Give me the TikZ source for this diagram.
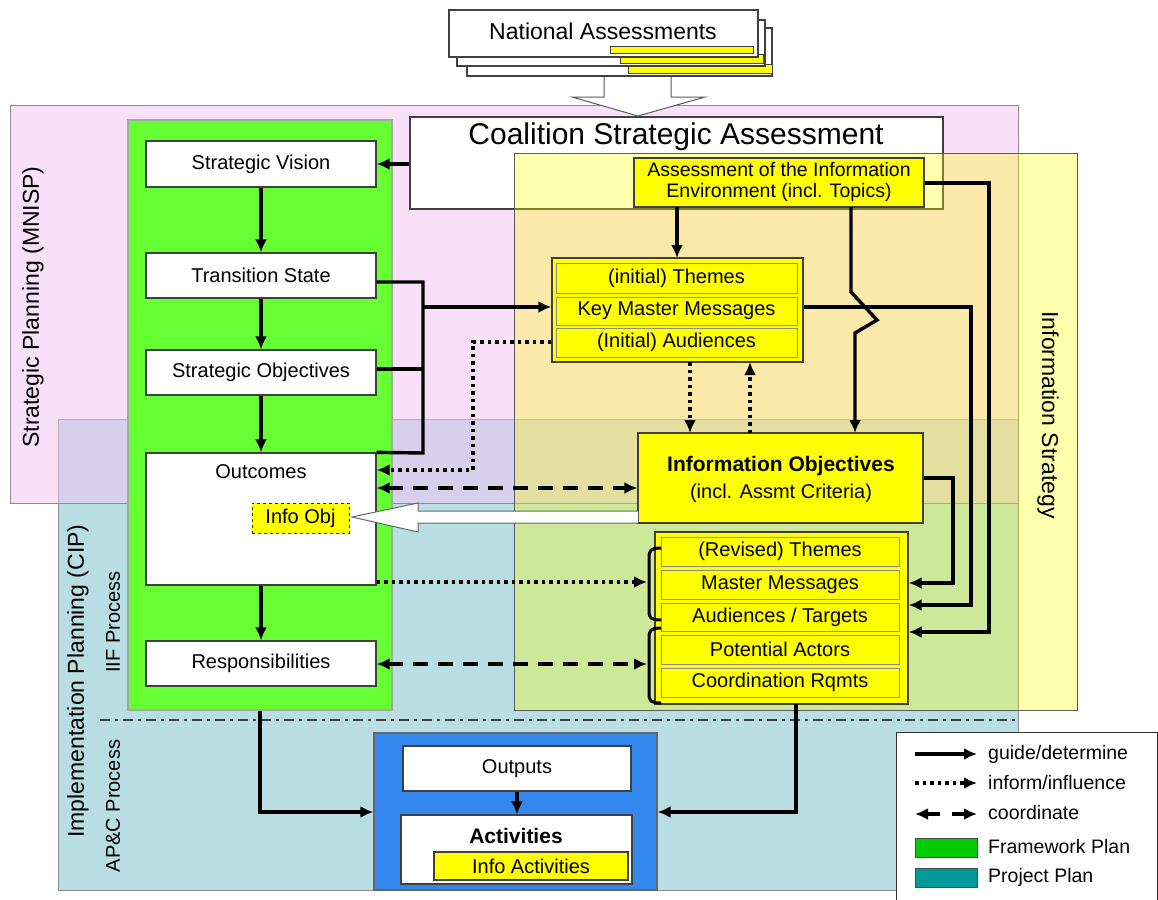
\documentclass[tikz,border=0pt]{standalone}
\usepackage{fontspec}
\setmainfont{Liberation Sans}
\usetikzlibrary{arrows.meta}
\definecolor{pinkR}{RGB}{245,196,245}
\definecolor{blueR}{RGB}{184,222,228}
\definecolor{greenF}{RGB}{102,255,51}
\definecolor{yellowF}{RGB}{255,255,0}
\definecolor{blueBox}{RGB}{51,136,238}
\definecolor{legG}{RGB}{0,204,0}
\definecolor{legT}{RGB}{0,153,153}
\newcommand{\mkbox}[6]{\node[#2, minimum width={(#5)-(#3)}, minimum height={(#6)-(#4)}] (#1) at ({((#3)+(#5))/2},{((#4)+(#6))/2})}
\newcommand{\fs}[1]{\fontsize{#1}{#1}\selectfont}
\begin{document}
\begin{tikzpicture}[x=1pt,y=-1pt, font=\fs{20},
  box/.style={draw=black!75, line width=1.3pt, fill=white, inner sep=0pt},
  ybox/.style={draw=black!75, line width=1.3pt, fill=yellowF, inner sep=0pt},
  row/.style={draw=black!45, line width=0.8pt, fill=yellowF, inner sep=0pt},
  arr/.style={line width=3.4pt, -{Latex[length=13pt,width=12pt]}},
  ln/.style={line width=3.4pt},
  dotarr/.style={line width=3.6pt, dash pattern=on 3.5pt off 4pt, -{Latex[length=13pt,width=12pt]}},
  dasharr/.style={line width=3.6pt, dash pattern=on 15pt off 10pt, {Latex[length=13pt,width=12pt]}-{Latex[length=13pt,width=12pt]}},
  lbl/.style={anchor=west, inner sep=0pt, font=\fs{19.5}},
]
\useasboundingbox (0,0) rectangle (1158,899);
\fill[white] (0,0) rectangle (1158,899);

% regions
\fill[blueR] (58,419) rectangle (1018,890);
\draw[black!45, line width=0.8pt] (58,419) rectangle (1018,890);
\fill[pinkR, fill opacity=0.51] (10,105) rectangle (1018,503);
\draw[black!45, line width=0.8pt] (10,105) rectangle (1018,503);

\node[rotate=90] (spl) at (33,307) {\fs{23}Strategic Planning (MNISP)};
\node[rotate=90] (ipl) at (78,681) {\fs{23}Implementation Planning (CIP)};
\node[rotate=90] (iif) at (113,622) {IIF Process};
\node[rotate=90] (apc) at (113,806) {AP\&C Process};

% framework plan (green)
\mkbox{fw}{draw=black!35, line width=1.5pt, fill=greenF, inner sep=0pt}{128}{120}{392}{710}{};
\mkbox{sv}{box}{146}{141}{376}{187} {Strategic Vision};
\mkbox{ts}{box}{146}{253}{376}{298} {Transition State};
\mkbox{so}{box}{146}{350}{376}{395} {Strategic Objectives};
\mkbox{oc}{box}{146}{453}{376}{585} {};
\node (oct) at (261,472) {Outcomes};
\mkbox{iob}{fill=yellowF, draw=black!80, dashed, line width=0.9pt, inner sep=0pt}{252}{503}{349}{533} {Info Obj};
\mkbox{resp}{box}{146}{641}{376}{686} {Responsibilities};

% coalition strategic assessment
\mkbox{csa}{box}{410}{117}{943}{209} {};
\node (csat) at (676,137) {\fs{30}Coalition Strategic Assessment};

% dash-dot separator
\draw[black!75, line width=2.8pt, dash pattern=on 10pt off 5pt on 3pt off 5pt] (100,720) -- (1018,720);

% project plan (blue)
\mkbox{bp}{draw=black!60, line width=1.2pt, fill=blueBox, inner sep=0pt}{374}{733}{657}{890} {};
\mkbox{out}{box}{403}{746}{631}{791} {Outputs};
\mkbox{act}{box}{401}{815}{632}{884} {};
\node (actt) at (516,836) {\fs{21}\bfseries Activities};
\mkbox{iact}{ybox}{434}{852}{628}{880} {Info Activities};

% national assessments
\fill[white] (604,70) -- (604,97) -- (572,97) -- (638,116) -- (705,97) -- (671,97) -- (671,70) -- cycle;
\draw[black!65, line width=1pt] (604,76) -- (604,97) -- (572,97) -- (638,116) -- (705,97) -- (671,97) -- (671,76);
\mkbox{na3}{box}{467}{28}{772}{76} {};
\mkbox{nb3}{ybox, line width=0.9pt}{628}{64}{772}{73} {};
\mkbox{na2}{box}{457}{20}{765}{66} {};
\mkbox{nb2}{ybox, line width=0.9pt}{620}{54}{763}{63} {};
\mkbox{na1}{box}{449}{10}{758}{57} {};
\mkbox{nb1}{ybox, line width=0.9pt}{610}{46}{753}{53} {};
\node (nat) at (603,31) {\fs{23}National Assessments};

% information strategy (yellow, translucent)
\fill[yellowF, fill opacity=0.32] (514,153) rectangle (1077,710);
\draw[black!65, line width=0.9pt] (514,153) rectangle (1077,710);
\node[rotate=-90] (ist) at (1048,415) {\fs{23}Information Strategy};

\mkbox{aie}{ybox}{634}{158}{924}{207} {};
\node[align=center, font=\fs{19.5}] (aiet) at (779,182) {Assessment of the Information\\[1pt]Environment (incl. Topics)};

\mkbox{th}{ybox}{552}{258}{803}{362} {};
\mkbox{th1}{row}{556}{263}{797}{293} {(initial) Themes};
\mkbox{th2}{row}{556}{297}{797}{325} {Key Master Messages};
\mkbox{th3}{row}{556}{328}{797}{357} {(Initial) Audiences};

\mkbox{io}{ybox}{638}{433}{923}{523} {};
\node (iot1) at (781,466) {\fs{21}\bfseries Information Objectives};
\node (iot2) at (781,493) {(incl. Assmt Criteria)};

\mkbox{rv}{ybox}{655}{532}{908}{704} {};
\mkbox{rv1}{row}{661}{537}{899}{566} {(Revised) Themes};
\mkbox{rv2}{row}{661}{570}{899}{599} {Master Messages};
\mkbox{rv3}{row}{661}{603}{899}{631} {Audiences / Targets};
\mkbox{rv4}{row}{661}{635}{899}{664} {Potential Actors};
\mkbox{rv5}{row}{661}{668}{899}{697} {Coordination Rqmts};

% braces
\draw[line width=3pt] (661,548) .. controls (651,548) and (649,550) .. (649,558) -- (649,611) .. controls (649,618) and (651,620) .. (661,620);
\draw[line width=3pt] (661,628) .. controls (651,628) and (649,630) .. (649,638) -- (649,694) .. controls (649,701) and (651,703) .. (661,703);
\coordinate (bu) at (647,582);
\coordinate (bl) at (647,664);

% guide/determine arrows
\draw[arr] (csa.west |- sv.east) -- (sv.east);
\draw[arr] (sv.south) -- (ts.north);
\draw[arr] (ts.south) -- (so.north);
\draw[arr] (so.south) -- (oc.north);
\draw[arr] (oc.south) -- (resp.north);
\coordinate (bt) at (423,282);
\coordinate (bm) at (423,307);
\coordinate (bb) at (423,453);
\draw[ln] (ts.east |- bt) -- (bt) -- (bb) -- (oc.north east);
\draw[ln] (so.east |- 0,369) -- (423,369);
\draw[arr] (bm) -- (bm -| th.west);
\draw[arr] (677,207) -- (677,258);
\draw[arr, line join=miter] (851,207) -- (851,292) -- (877,320) -- (855,333) -- (855,433);
\draw[arr] (io.east |- 0,478) -- (953,478) -- (953,583) -- (rv.east |- 0,583);
\draw[arr] (th.east |- 0,307) -- (971,307) -- (971,605) -- (rv.east |- 0,605);
\draw[arr] (aie.east |- 0,183) -- (989,183) -- (989,632) -- (rv.east |- 0,632);
\draw[arr] (796,704) -- (796,812) -- (bp.east |- 0,812);
\draw[arr] (fw.south -| 260,0) -- (260,812) -- (bp.west |- 0,812);
\draw[arr] (out.south) -- (out.south |- act.north);

% inform/influence arrows
\draw[dotarr] (th.west |- 0,342) -- (473,342) -- (473,470) -- (oc.east |- 0,470);
\draw[dotarr] (690,362) -- (690,433);
\draw[dotarr] (750,433) -- (750,362);
\draw[dotarr] (oc.east |- bu) -- (bu);

% coordinate arrows
\draw[dasharr] (oc.east |- 0,488) -- (io.west |- 0,488);
\draw[dasharr] (resp.east |- bl) -- (bl);

% hollow arrow to Info Obj
\draw[fill=white, draw=black!60, line width=1pt] (638,511) -- (418,511) -- (418,503) -- (352,517) -- (418,532) -- (418,523) -- (638,523);

% legend
\fill[white] (896,732) rectangle (1157,905);
\draw[black!80, line width=1pt] (896,905) -- (896,732) -- (1157,732) -- (1157,905);
\draw[arr] (915,754) -- (977,754);
\node[lbl] (l1) at (988,754) {guide/determine};
\draw[dotarr] (915,783) -- (977,783);
\node[lbl] (l2) at (988,783) {inform/influence};
\draw[arr] (940,814) -- (915,814);
\draw[arr] (952,814) -- (977,814);
\node[lbl] (l3) at (988,813) {coordinate};
\draw[fill=legG, draw=black!70, line width=0.8pt] (915,838) rectangle (977,857);
\node[lbl] (l4) at (988,847) {Framework Plan};
\draw[fill=legT, draw=black!70, line width=0.8pt] (915,868) rectangle (977,887);
\node[lbl] (l5) at (988,877) {Project Plan};
\end{tikzpicture}
\end{document}
